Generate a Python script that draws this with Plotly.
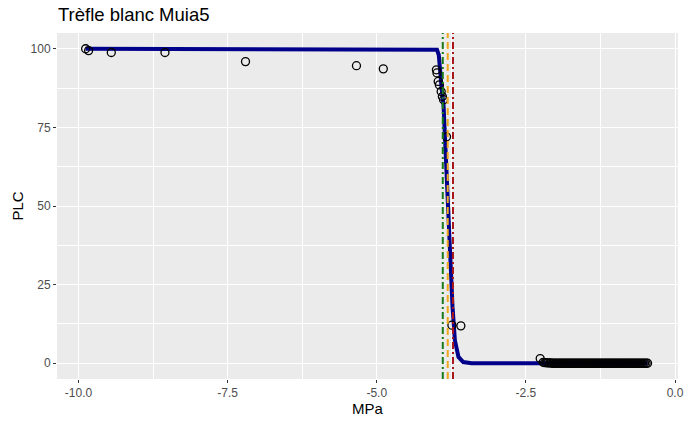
import plotly.graph_objects as go

# Measured points (MPa, PLC)
obs_mpa = [-9.88, -9.83, -9.45, -8.55, -7.20, -5.34, -4.89,
           -4.00, -3.99, -3.97, -3.95, -3.92, -3.90, -3.88, -3.83,
           -3.74, -3.59, -2.26]
obs_plc = [100.0, 99.4, 98.8, 98.8, 95.9, 94.6, 93.6,
           93.3, 92.3, 89.6, 88.5, 86.4, 84.8, 83.8, 72.0,
           12.1, 11.9, 1.5]

# Dense stable readings near zero PLC
stable_mpa = [-2.21, -2.185, -2.16, -2.135, -2.11, -2.085, -2.06, -2.035, -2.01, -1.985,
              -1.96, -1.935, -1.91, -1.885, -1.86, -1.835, -1.81, -1.785, -1.76, -1.735,
              -1.71, -1.685, -1.66, -1.635, -1.61, -1.585, -1.56, -1.535, -1.51, -1.485,
              -1.46, -1.435, -1.41, -1.385, -1.36, -1.335, -1.31, -1.285, -1.26, -1.235,
              -1.21, -1.185, -1.16, -1.135, -1.11, -1.085, -1.06, -1.035, -1.01, -0.985,
              -0.96, -0.935, -0.91, -0.885, -0.86, -0.835, -0.81, -0.785, -0.76, -0.735,
              -0.71, -0.685, -0.66, -0.635, -0.61, -0.585, -0.56, -0.535, -0.51, -0.485, -0.46]
stable_plc = [0.3, 0.2, 0.2, 0.1, 0.1, 0.1, 0.0, 0.0, 0.0, 0.0,
              0.0, 0.0, 0.0, 0.0, 0.0, 0.0, 0.0, 0.0, 0.0, 0.0,
              0.0, 0.0, 0.0, 0.0, 0.0, 0.0, 0.0, 0.0, 0.0, 0.0,
              0.0, 0.0, 0.0, 0.0, 0.0, 0.0, 0.0, 0.0, 0.0, 0.0,
              0.0, 0.0, 0.0, 0.0, 0.0, 0.0, 0.0, 0.0, 0.0, 0.0,
              0.0, 0.0, 0.0, 0.0, 0.0, 0.0, 0.0, 0.0, 0.0, 0.0,
              0.0, 0.0, 0.0, 0.0, 0.0, 0.0, 0.0, 0.0, 0.0, 0.0, 0.0]

# Fitted vulnerability curve
curve_mpa = [-9.88, -6.00, -4.30, -4.13, -4.05, -3.99, -3.96, -3.94, -3.91, -3.88, -3.855,
             -3.83, -3.80, -3.78, -3.76, -3.73, -3.69, -3.63, -3.55, -3.41, -0.46]
curve_plc = [100.0, 100.0, 100.0, 100.0, 99.9, 99.7, 98.0, 92.0, 87.0, 82.0, 71.0,
             60.5, 50.0, 39.0, 28.6, 18.0, 7.3, 2.0, 0.4, 0.0, 0.0]

# Reference pressures (vertical lines)
p_values = [-3.893, -3.81, -3.722]
p_colors = ["#1A7A1A", "#F0A81E", "#A8161B"]
p_dashes = ["7px,3px,2px,3px", "7px,4px", "7px,3px,2px,3px"]

x_ticks = [-10.0, -7.5, -5.0, -2.5, 0.0]
x_ticklabels = ["-10.0", "-7.5", "-5.0", "-2.5", "0.0"]
y_ticks = [0, 25, 50, 75, 100]
y_ticklabels = ["0", "25", "50", "75", "100"]

fig = go.Figure()

fig.add_trace(go.Scatter(
    x=curve_mpa, y=curve_plc, mode="lines",
    line=dict(color="#00008B", width=4), hoverinfo="skip", showlegend=False))

fig.add_trace(go.Scatter(
    x=obs_mpa + stable_mpa, y=obs_plc + stable_plc, mode="markers",
    marker=dict(symbol="circle-open", size=8, color="black",
                line=dict(width=1.3, color="black")),
    showlegend=False))

for xv, c, d in zip(p_values, p_colors, p_dashes):
    fig.add_vline(x=xv, line=dict(color=c, width=2, dash=d), layer="above")

fig.update_layout(
    width=689, height=426,
    margin=dict(l=57, r=5, t=33, b=47),
    paper_bgcolor="white", plot_bgcolor="#EBEBEB",
    font=dict(family="Liberation Sans, Arial, sans-serif"),
    title=dict(text="Trèfle blanc Muia5", x=58/689, xanchor="left", xref="container",
               y=1 - 15/426, yanchor="middle", yref="container",
               font=dict(size=18.5, color="black")),
)

fig.update_xaxes(
    range=[-10.36, 0.05], tickvals=x_ticks, ticktext=x_ticklabels,
    ticklabeloverflow="allow",
    showgrid=True, gridcolor="white", gridwidth=1.2,
    minor=dict(tickvals=[-8.75, -6.25, -3.75, -1.25], showgrid=True, gridcolor="white", gridwidth=0.6),
    ticks="outside", ticklen=3, tickcolor="#333333", tickwidth=1,
    tickfont=dict(size=12, color="#4D4D4D"), zeroline=False, showline=False,
    title=dict(text="MPa", font=dict(size=15, color="black"), standoff=4),
)
fig.update_yaxes(
    range=[-5, 105], tickvals=y_ticks, ticktext=y_ticklabels,
    showgrid=True, gridcolor="white", gridwidth=1.2,
    minor=dict(tickvals=[12.5, 37.5, 62.5, 87.5], showgrid=True, gridcolor="white", gridwidth=0.6),
    ticks="outside", ticklen=3, tickcolor="#333333", tickwidth=1,
    tickfont=dict(size=12, color="#4D4D4D"), zeroline=False, showline=False,
    title=dict(text="PLC", font=dict(size=15, color="black"), standoff=3),
)

fig.write_html("out.html")
